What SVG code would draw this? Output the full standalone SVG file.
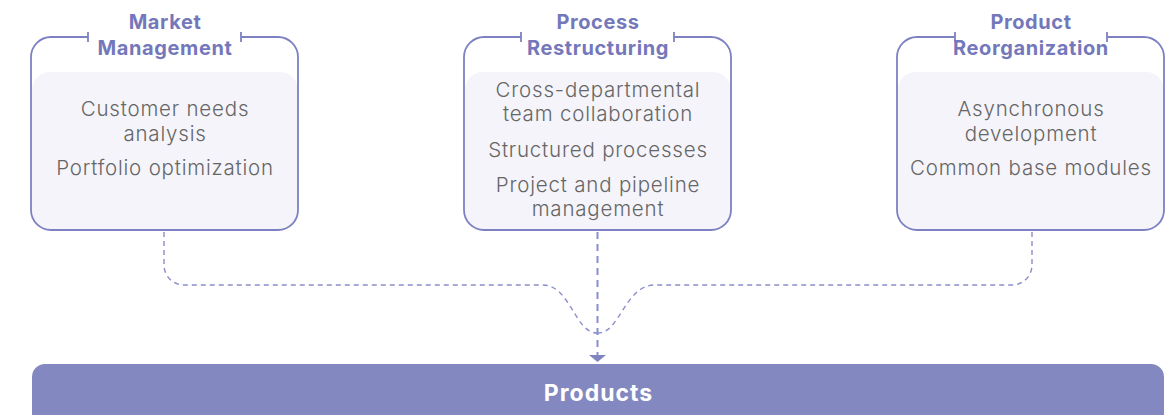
<svg xmlns="http://www.w3.org/2000/svg" width="1170" height="415" viewBox="0 0 1170 415">
<defs>
<style>
.frame{fill:none;stroke:#7d81c2;stroke-width:1.8}
.inner{fill:#f4f4fa}
.title{font-family:Inter,"Noto Sans",sans-serif;font-weight:700;font-size:20px;letter-spacing:0.6px;fill:#7478bb;text-anchor:middle}
.body{font-family:Inter,"Noto Sans",sans-serif;font-weight:300;font-size:20.5px;letter-spacing:0.8px;fill:#666666;text-anchor:middle}
.dash{fill:none;stroke:#8a8ecb;stroke-width:1.4;stroke-dasharray:5 4}
.dashmain{fill:none;stroke:#8a8ecb;stroke-width:2;stroke-dasharray:7 5}
.bar{fill:#8488c1}
.bartext{font-family:Inter,"Noto Sans",sans-serif;font-weight:700;font-size:23px;letter-spacing:1px;fill:#ffffff;text-anchor:middle}
</style>
</defs>
<rect width="1170" height="415" fill="#ffffff"/>

<g id="connectors">
<path class="dash" d="M164,232 V265 A20,20 0 0 0 184,285 H543 C570,285 575,333 597,333"/>
<path class="dash" d="M1032,232 V265 A20,20 0 0 1 1012,285 H655 C625,285 620,333 598,333"/>
<path class="dashmain" d="M597.5,232 V355"/>
<polygon points="589,355 606,355 597.5,362" fill="#8084bf"/>
</g>

<g id="market-management">
<path class="inner" d="M32,90 A18,18 0 0 1 50,72 H280 A18,18 0 0 1 298,90 V210 A20,20 0 0 1 278,230 H51 A20,20 0 0 1 31,210 Z"/>
<path class="frame" d="M88,37 H51 A20,20 0 0 0 31,57 V210 A20,20 0 0 0 51,230 H278 A20,20 0 0 0 298,210 V57 A20,20 0 0 0 278,37 H241 M88,32 V42 M241,32 V42"/>
<text class="title" x="165" y="29">Market</text>
<text class="title" x="165" y="55">Management</text>
<text class="body" x="165" y="116">Customer needs</text>
<text class="body" x="165" y="141">analysis</text>
<text class="body" x="165" y="175">Portfolio optimization</text>
</g>

<g id="process-restructuring">
<path class="inner" d="M465,90 A18,18 0 0 1 483,72 H713 A18,18 0 0 1 731,90 V210 A20,20 0 0 1 711,230 H484 A20,20 0 0 1 464,210 Z"/>
<path class="frame" d="M521,37 H484 A20,20 0 0 0 464,57 V210 A20,20 0 0 0 484,230 H711 A20,20 0 0 0 731,210 V57 A20,20 0 0 0 711,37 H674 M521,32 V42 M674,32 V42"/>
<text class="title" x="598" y="29">Process</text>
<text class="title" x="598" y="55">Restructuring</text>
<text class="body" x="598" y="97">Cross-departmental</text>
<text class="body" x="598" y="121">team collaboration</text>
<text class="body" x="598" y="157">Structured processes</text>
<text class="body" x="598" y="192">Project and pipeline</text>
<text class="body" x="598" y="216">management</text>
</g>

<g id="product-reorganization">
<path class="inner" d="M898,90 A18,18 0 0 1 916,72 H1146 A18,18 0 0 1 1164,90 V210 A20,20 0 0 1 1144,230 H917 A20,20 0 0 1 897,210 Z"/>
<path class="frame" d="M955,37 H917 A20,20 0 0 0 897,57 V210 A20,20 0 0 0 917,230 H1144 A20,20 0 0 0 1164,210 V57 A20,20 0 0 0 1144,37 H1107 M955,32 V42 M1107,32 V42"/>
<text class="title" x="1031" y="29">Product</text>
<text class="title" x="1031" y="55">Reorganization</text>
<text class="body" x="1031" y="116">Asynchronous</text>
<text class="body" x="1031" y="141">development</text>
<text class="body" x="1031" y="175">Common base modules</text>
</g>

<g id="products">
<rect class="bar" x="32" y="364" width="1132" height="70" rx="13"/>
<text class="bartext" x="598.5" y="401">Products</text>
</g>
</svg>
